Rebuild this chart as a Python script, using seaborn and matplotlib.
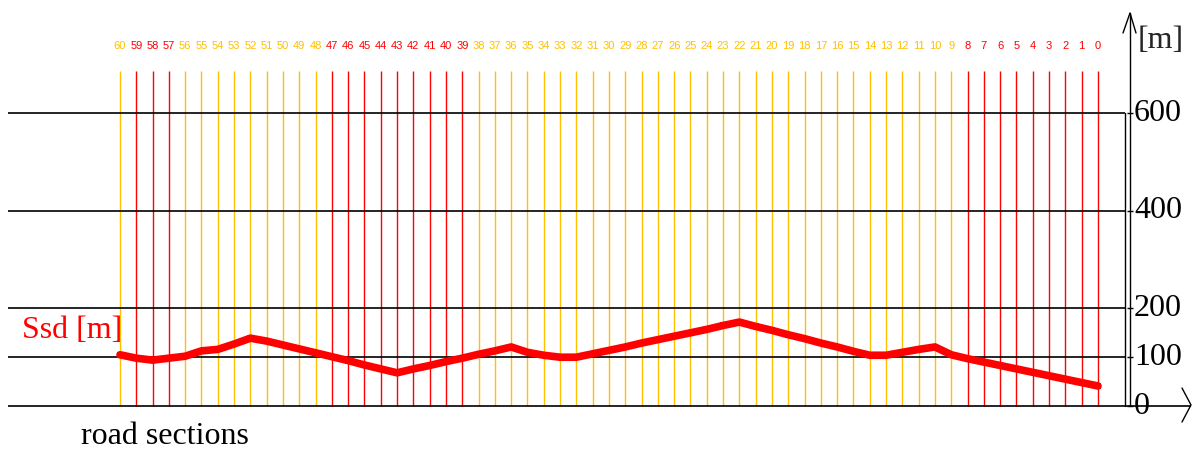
import matplotlib
matplotlib.use("Agg")
import matplotlib.pyplot as plt
import seaborn as sns
import pandas as pd

# ---- data ----
sections = list(range(60, -1, -1))
ssd = [105, 98, 94, 98, 102, 113, 116, 127, 139, 133, 125, 117, 109, 101, 93, 84, 76, 68,
       76, 83, 91, 98, 106, 113, 121, 110, 104, 100, 100, 107, 114, 121, 129, 136, 143, 150,
       157, 165, 172, 163, 155, 146, 138, 129, 121, 112, 104, 104, 110, 116, 121, 105, 97,
       90, 83, 76, 69, 62, 55, 48, 41]
red_sections = [59, 58, 57, 47, 46, 45, 44, 43, 42, 41, 40, 39, 8, 7, 6, 5, 4, 3, 2, 1, 0]
y_ticks = [0, 100, 200, 400, 600]
y_tick_labels = ["0", "100", "200", "400", "600"]

RED = "#FF0000"
ORANGE = "#FFC000"

sns.set_style("white")
plt.rcParams['font.family'] = ['DejaVu Sans']

W, H = 1198, 455
fig = plt.figure(figsize=(W / 100, H / 100), dpi=100)
ax = fig.add_axes([0, 0, 1, 1])

# pixel mapping
PX0, PXS = 120.0, 16.3      # x pixel of section 60, pixels per section
PY0, PYS = 406.0, 0.488     # y pixel of value 0, pixels per metre
def sx(px):
    return 60 - (px - PX0) / PXS
def vy(py):
    return (PY0 - py) / PYS

df = pd.DataFrame({"section": sections, "ssd": ssd})
df["color"] = [RED if s in red_sections else ORANGE for s in sections]

# vertical section lines
top_line = vy(71)
for s, c in zip(df["section"], df["color"]):
    ax.vlines(s, 0, top_line, color=c, lw=1.0, zorder=1)
    ax.text(s, vy(46), str(s), color=c, fontsize=8, ha='center', va='center',
            family='Liberation Sans')

# horizontal grid lines
for t in y_ticks[1:]:
    ax.hlines(t, sx(8), sx(1125), color='black', lw=1.2, zorder=2)
ax.hlines(0, sx(8), sx(1191), color='black', lw=1.2, zorder=2)

# right axis
ax.plot([sx(1125), sx(1125)], [0, 600], color='black', lw=1.0)
ax.plot([sx(1130), sx(1130)], [0, vy(13)], color='black', lw=1.0)
ax.plot([sx(1123), sx(1130), sx(1136)], [vy(33), vy(13), vy(33)], color='black', lw=1.0)
ax.plot([sx(1182), sx(1191), sx(1182)], [vy(388), vy(405), vy(422)], color='black', lw=1.0)
for t, lab in zip(y_ticks, y_tick_labels):
    ax.hlines(t, sx(1127), sx(1133), color='black', lw=1.0)
    ax.text(sx(1134), t, lab, fontsize=23, ha='left', va='center', family='Liberation Serif',
            color='black')
ax.text(sx(1138), vy(40), "[m]", fontsize=23, ha='left', va='center', family='Liberation Serif')

# Ssd line
sns.lineplot(data=df, x="section", y="ssd", ax=ax, color=RED, lw=5.5, marker='s',
             markersize=5, markeredgewidth=0, zorder=5, legend=False)
ax.set_xlim(sx(0), sx(W))
ax.set_ylim(vy(H), vy(0))
ax.axis('off')

fig.text(72 / W, 1 - 331 / H, "Ssd [m]", color=RED, fontsize=23, ha='center', va='center',
         family='Liberation Serif')
fig.text(165 / W, 1 - 436 / H, "road sections", color='black', fontsize=23, ha='center',
         va='center', family='Liberation Serif')

fig.savefig("out.png", dpi=100)
